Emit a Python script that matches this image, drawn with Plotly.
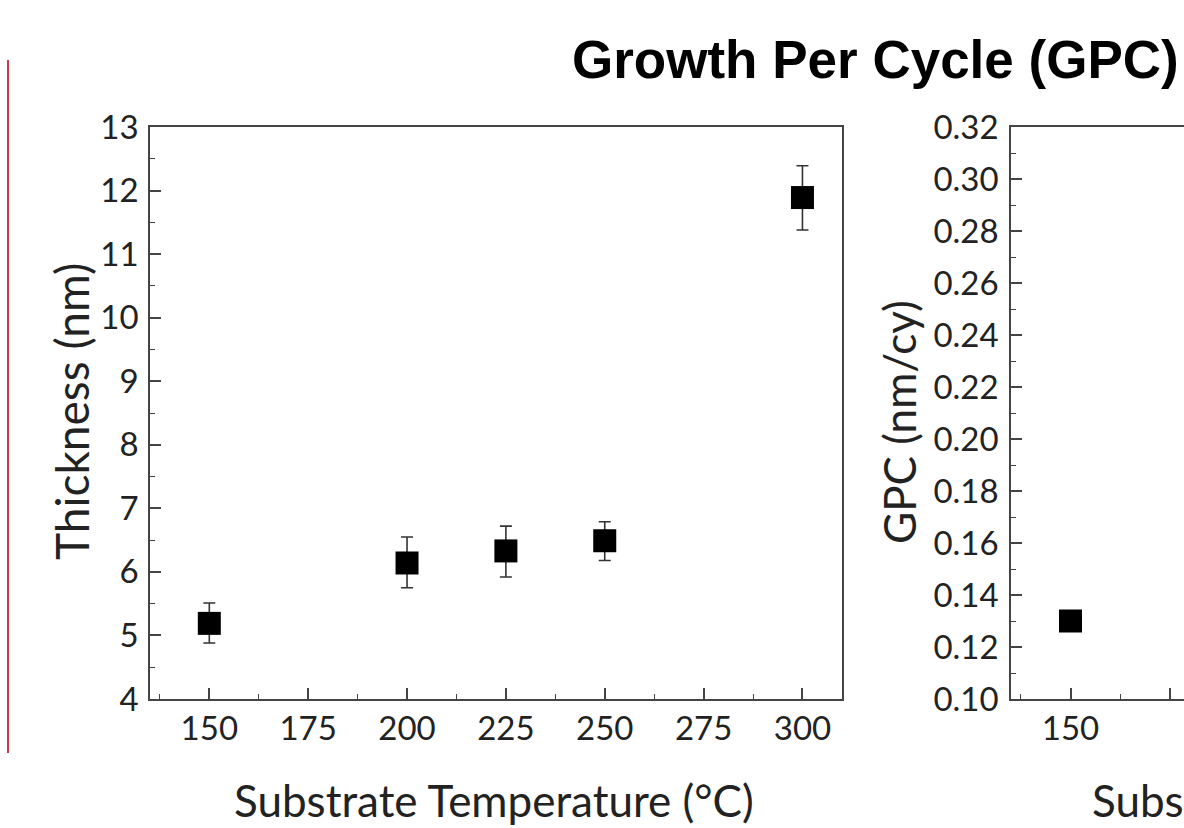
import plotly.graph_objects as go
from plotly.subplots import make_subplots

# Thickness vs substrate temperature (left panel)
temps = [150, 200, 225, 250, 300]
thickness = [5.19, 6.14, 6.33, 6.49, 11.89]
err_plus = [0.32, 0.41, 0.39, 0.30, 0.50]
err_minus = [0.31, 0.39, 0.41, 0.31, 0.51]

# GPC panel (only the first point is visible in the cropped slide)
gpc_temps = [150]
gpc = [0.130]

W, H = 1184, 828
FONT = "Lato"
TXT = "#222222"

def px_x(p):
    return p / W

def px_y(p):
    return (H - p) / H

fig = make_subplots(rows=1, cols=2)

fig.add_trace(go.Scatter(
    x=temps, y=thickness, mode="markers",
    marker=dict(symbol="square", size=23, color="black"),
    error_y=dict(type="data", symmetric=False, array=err_plus, arrayminus=err_minus,
                 color="#333333", thickness=1.6, width=6),
    showlegend=False), row=1, col=1)

fig.add_trace(go.Scatter(
    x=gpc_temps, y=gpc, mode="markers",
    marker=dict(symbol="square", size=23, color="black"),
    showlegend=False), row=1, col=2)

axis_common = dict(
    showline=True, linecolor="#444444", linewidth=1.6,
    ticks="inside", ticklen=11, tickwidth=1.6, tickcolor="#444444",
    showgrid=False, zeroline=False, automargin=False,
    tickfont=dict(family=FONT, size=33, color=TXT),
)
minor_common = dict(ticks="inside", ticklen=5, tickcolor="#444444", tickwidth=1.4)

# left panel
fig.update_xaxes(axis_common, row=1, col=1,
                 domain=[px_x(150), px_x(842)], range=[135, 310],
                 tick0=150, dtick=25, mirror=True,
                 minor=dict(minor_common, tick0=137.5, dtick=12.5),
                 ticklabelstandoff=0)
fig.update_yaxes(axis_common, row=1, col=1,
                 domain=[px_y(699), px_y(127)], range=[4, 13],
                 tick0=4, dtick=1, mirror=True,
                 minor=dict(minor_common, dtick=0.5),
                 ticklabelstandoff=3)

# right panel (cropped at the slide edge)
fig.update_xaxes(axis_common, row=1, col=2,
                 domain=[px_x(1011), 1.0], range=[135, 178.6],
                 tick0=150, dtick=25, mirror=True,
                 minor=dict(minor_common, tick0=137.5, dtick=12.5),
                 ticklabelstandoff=0)
fig.update_yaxes(axis_common, row=1, col=2,
                 domain=[px_y(699), px_y(127)], range=[0.10, 0.32],
                 tick0=0.10, dtick=0.02, tickformat=".2f", mirror=False,
                 minor=dict(minor_common, dtick=0.01),
                 ticklabelstandoff=4)

# axis titles placed as on the slide
titles = [
    ("Substrate Temperature (°C)", 494, 800, 0, "center", 44),
    ("Substrate Temperature (°C)", 1090, 800, 0, "left", 44),
    ("Thickness (nm)", 71, 412, -90, "center", 46),
    ("GPC (nm/cy)", 899, 422, -90, "center", 44),
]
for text, x, y, ang, anchor, size in titles:
    fig.add_annotation(text=text, xref="paper", yref="paper",
                       x=px_x(x), y=px_y(y), xanchor=anchor, yanchor="middle",
                       textangle=ang, showarrow=False,
                       font=dict(family=FONT, size=size, color=TXT))

# red slide accent line on the left
fig.add_shape(type="line", xref="paper", yref="paper",
              x0=px_x(8), x1=px_x(8), y0=px_y(753), y1=px_y(60),
              line=dict(color="#D03A50", width=2))

fig.add_annotation(text="<b>Growth Per Cycle (GPC)</b>", xref="paper", yref="paper",
                   x=px_x(875), y=px_y(60), xanchor="center", yanchor="middle",
                   showarrow=False,
                   font=dict(family="Liberation Sans", size=53, color="black"))

fig.update_layout(width=W, height=H, margin=dict(l=0, r=0, t=0, b=0, autoexpand=False),
                  paper_bgcolor="white", plot_bgcolor="white")

# drop the browser's default body margin so the figure sits at the page corner
fig.write_html("out.html", config={"displayModeBar": False},
               post_script="document.body.style.margin='0px';"
                           "document.body.style.overflow='hidden';")
